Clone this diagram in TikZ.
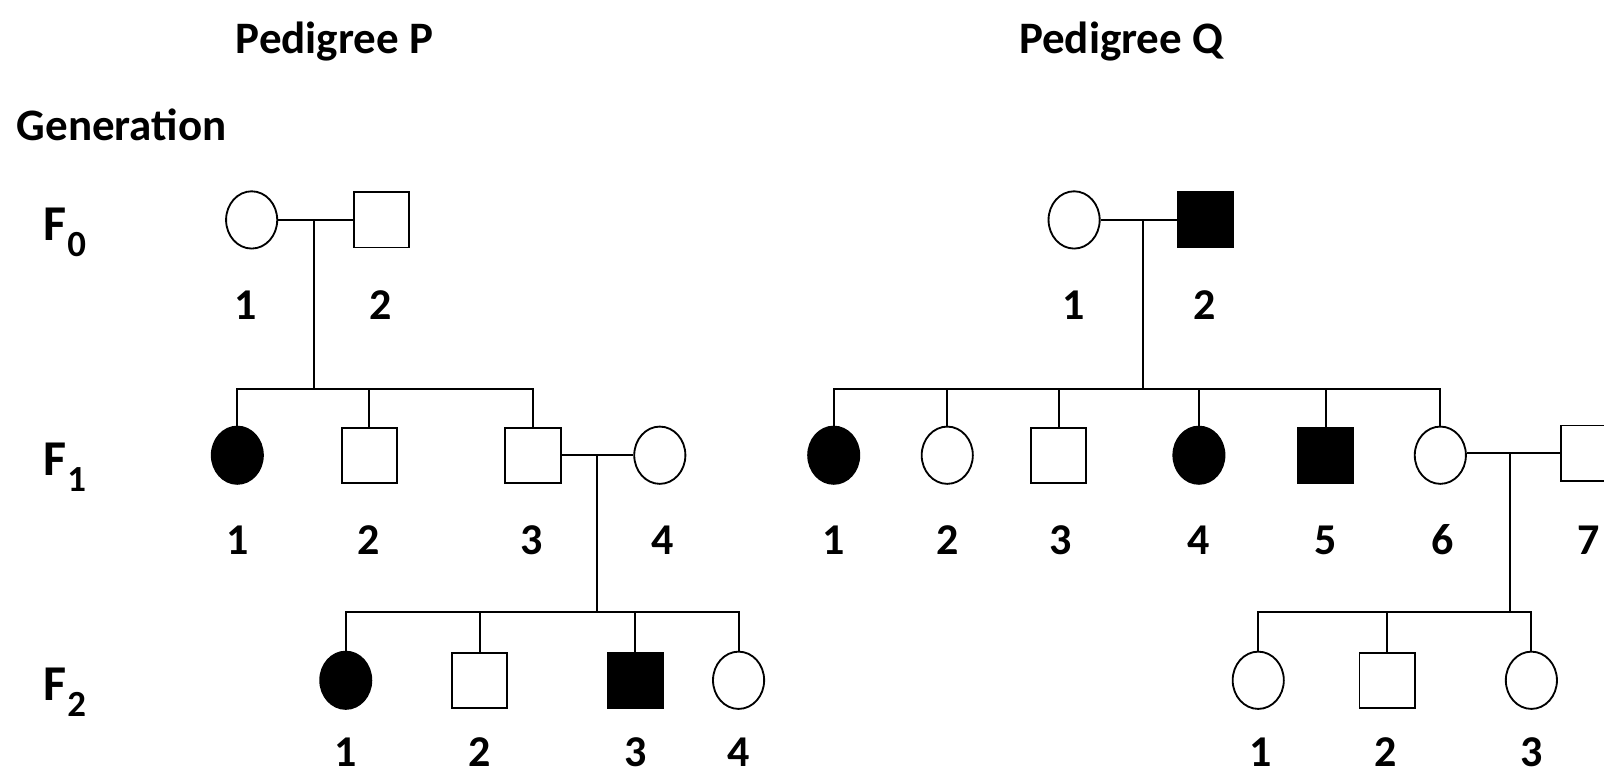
\documentclass[tikz,border=0pt]{standalone}
\usepackage{fontspec}
\setmainfont{Carlito}
\usetikzlibrary{shapes.geometric}
\tikzset{
  fem/.style={ellipse, draw, line width=0.9pt, minimum width=25pt, minimum height=28pt, inner sep=0pt, fill=white},
  mal/.style={rectangle, draw, line width=0.9pt, minimum width=27pt, minimum height=27pt, inner sep=0pt, fill=white},
  aff/.style={fill=black},
  num/.style={font=\fontsize{21.5}{24}\selectfont\bfseries, inner sep=0pt},
  ttl/.style={font=\fontsize{22}{24}\selectfont\bfseries, inner sep=0pt, anchor=base},
  gen/.style={font=\fontsize{24.5}{26}\selectfont\bfseries, inner sep=0pt, anchor=base west},
  link/.style={line width=0.9pt}
}
\newcommand{\gsub}[1]{F\kern0.5pt\raisebox{-7.8pt}{\fontsize{18}{20}\selectfont #1}}
\begin{document}
\begin{tikzpicture}[x=0.5pt,y=-0.5pt]
\useasboundingbox (0,0) rectangle (1568,755);
% titles
\node[ttl] (tp) at (327,52) {Pedigree P};
\node[ttl] (tq) at (1096,52) {Pedigree Q};
\node[ttl, anchor=base west] (tg) at (16,137) {Generation};
\node[gen] (g0) at (42,235) {\gsub{0}};
\node[gen] (g1) at (42,465) {\gsub{1}};
\node[gen] (g2) at (42,685) {\gsub{2}};
% ---------------- Pedigree P ----------------
\node[fem] (p01) at (246,215) {};
\node[mal] (p02) at (373,215) {};
\node[fem,aff] (p11) at (232,445) {};
\node[mal] (p12) at (361,445) {};
\node[mal] (p13) at (521,445) {};
\node[fem] (p14) at (645,445) {};
\node[fem,aff] (p21) at (338,665) {};
\node[mal] (p22) at (469,665) {};
\node[mal,aff] (p23) at (621,665) {};
\node[fem] (p24) at (722,665) {};
\coordinate (pm0) at (307,215);
\coordinate (ps0) at (307,380);
\coordinate (pm1) at (584,445);
\coordinate (ps1) at (584,598);
\draw[link] (p01.east) -- (p02.west);
\draw[link] (pm0) -- (ps0);
\draw[link] (p11.north) -- (p11.north |- ps0) -- (p13.north |- ps0) -- (p13.north);
\draw[link] (p12.north) -- (p12.north |- ps0);
\draw[link] (p13.east) -- (p14.west);
\draw[link] (pm1) -- (ps1);
\draw[link] (p21.north) -- (p21.north |- ps1) -- (p24.north |- ps1) -- (p24.north);
\draw[link] (p22.north) -- (p22.north |- ps1);
\draw[link] (p23.north) -- (p23.north |- ps1);
\node[num] (np01) at (240,298) {1};
\node[num] (np02) at (372,298) {2};
\node[num] (np11) at (232,528) {1};
\node[num] (np12) at (360,528) {2};
\node[num] (np13) at (520,528) {3};
\node[num] (np14) at (648,528) {4};
\node[num] (np21) at (338,735) {1};
\node[num] (np22) at (469,735) {2};
\node[num] (np23) at (621,735) {3};
\node[num] (np24) at (722,735) {4};
% ---------------- Pedigree Q ----------------
\node[fem] (q01) at (1050,215) {};
\node[mal,aff] (q02) at (1178,215) {};
\node[fem,aff] (q11) at (815,445) {};
\node[fem] (q12) at (926,445) {};
\node[mal] (q13) at (1035,445) {};
\node[fem,aff] (q14) at (1172,445) {};
\node[mal,aff] (q15) at (1296,445) {};
\node[fem] (q16) at (1408,445) {};
\node[mal] (q17) at (1553,443) {};
\node[fem] (q21) at (1230,665) {};
\node[mal] (q22) at (1356,665) {};
\node[fem] (q23) at (1497,665) {};
\coordinate (qm0) at (1117,215);
\coordinate (qs0) at (1117,380);
\coordinate (qm1) at (1476,443);
\coordinate (qs1) at (1476,598);
\draw[link] (q01.east) -- (q02.west);
\draw[link] (qm0) -- (qs0);
\draw[link] (q11.north) -- (q11.north |- qs0) -- (q16.north |- qs0) -- (q16.north);
\draw[link] (q12.north) -- (q12.north |- qs0);
\draw[link] (q13.north) -- (q13.north |- qs0);
\draw[link] (q14.north) -- (q14.north |- qs0);
\draw[link] (q15.north) -- (q15.north |- qs0);
\draw[link] (q16.east |- qm1) -- (q17.west);
\draw[link] (qm1) -- (qs1);
\draw[link] (q21.north) -- (q21.north |- qs1) -- (q23.north |- qs1) -- (q23.north);
\draw[link] (q22.north) -- (q22.north |- qs1);
\node[num] (nq01) at (1050,298) {1};
\node[num] (nq02) at (1178,298) {2};
\node[num] (nq11) at (815,528) {1};
\node[num] (nq12) at (926,528) {2};
\node[num] (nq13) at (1037,528) {3};
\node[num] (nq14) at (1172,528) {4};
\node[num] (nq15) at (1296,528) {5};
\node[num] (nq16) at (1410,528) {6};
\node[num] (nq17) at (1553,528) {7};
\node[num] (nq21) at (1232,735) {1};
\node[num] (nq22) at (1355,735) {2};
\node[num] (nq23) at (1497,735) {3};
\end{tikzpicture}
\end{document}
